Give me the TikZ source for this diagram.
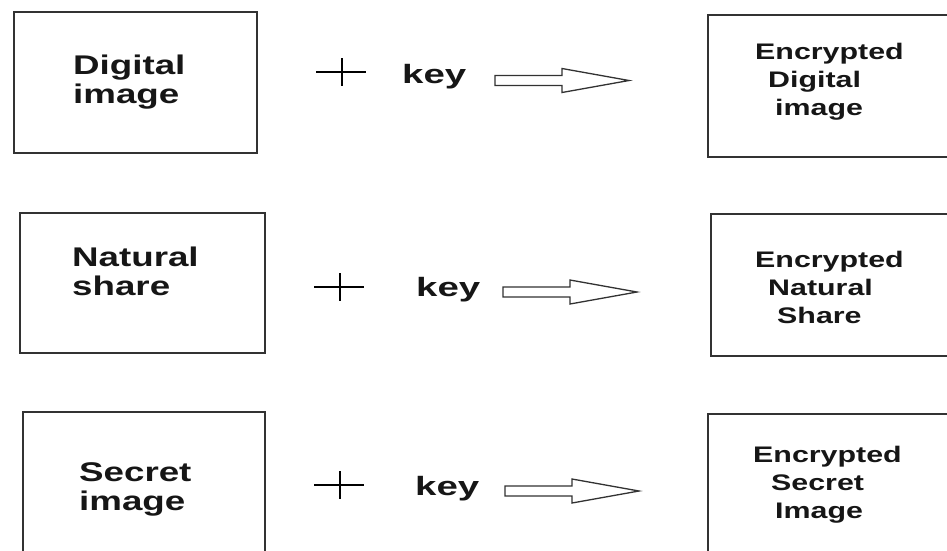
\documentclass[tikz,border=0pt]{standalone}
\usepackage{fontspec}
\setmainfont{Liberation Sans}
% wide bold sans faces for the three kinds of label
\newfontfamily\boxlabelfont[FakeStretch=1.36]{Liberation Sans}
\newfontfamily\outlabelfont[FakeStretch=1.35]{Liberation Sans}
\newfontfamily\keylabelfont[FakeStretch=1.45]{Liberation Sans}

\definecolor{ink}{RGB}{22,22,22}
\definecolor{frame}{RGB}{50,50,50}

\newcommand{\indentby}[1]{\hspace*{#1pt}}

\tikzset{
  box/.style={draw=frame, line width=1.4pt, rectangle, inner sep=0pt},
  inlabel/.style={text=ink, inner sep=0pt, text width=200pt, align=left, anchor=base west,
                  font=\boxlabelfont\bfseries\fontsize{27}{29}\selectfont},
  outlabel/.style={text=ink, inner sep=0pt, text width=180pt, align=left, anchor=base west,
                   font=\outlabelfont\bfseries\fontsize{22.5}{28}\selectfont},
  keytext/.style={text=ink, inner sep=0pt, anchor=base west,
                  font=\keylabelfont\bfseries\fontsize{26.5}{28}\selectfont},
  plusline/.style={draw=black, line width=1.2pt},
  arrowline/.style={draw=frame, line width=1.3pt, fill=white, line join=miter},
  plussign/.pic={\draw[plusline] (-26,0) -- (24,0) (0,-14) -- (0,14);},
  hollowarrow/.pic={\draw[arrowline] (0,-5) -- (67,-5) -- (67,-12) -- (134,0)
                     -- (67,12) -- (67,5) -- (0,5) -- cycle;}
}

\begin{document}
\begin{tikzpicture}[x=1pt,y=-1pt]
\useasboundingbox (0,0) rectangle (947,550);
\fill[white] (0,0) rectangle (947,550);
\clip (0,0) rectangle (947,550);

% input boxes
\node[box, minimum width=243pt, minimum height=141pt] (digital) at (135.5,82.5) {};
\node[box, minimum width=245pt, minimum height=140pt] (natural) at (142.5,283) {};
\node[box, minimum width=242pt, minimum height=158pt] (secret)  at (144,491) {};

\node[inlabel] (digitaltext) at (73,74)  {Digital\\image};
\node[inlabel] (naturaltext) at (72,266) {Natural\\share};
\node[inlabel] (secrettext)  at (79,481) {Secret\\image};

% plus signs and keys
\pic (plusA) at (342,72)  {plussign};
\pic (plusB) at (340,287) {plussign};
\pic (plusC) at (340,485) {plussign};

\node[keytext] (keyA) at (402,83)  {key};
\node[keytext] (keyB) at (416,296) {key};
\node[keytext] (keyC) at (415,495) {key};

% hollow block arrows
\pic (arrowA) at (495,80.5) {hollowarrow};
\pic (arrowB) at (503,292)  {hollowarrow};
\pic (arrowC) at (505,491)  {hollowarrow};

% encrypted output boxes (running off the right edge)
\node[box, minimum width=262pt, minimum height=142pt] (encdigital) at (839,86) {};
\node[box, minimum width=259pt, minimum height=142pt] (encnatural) at (840.5,285) {};
\node[box, minimum width=262pt, minimum height=156pt] (encsecret)  at (839,492) {};

\node[outlabel] (encdigitaltext) at (755,59)
  {Encrypted\\\indentby{13}Digital\\\indentby{20}image};
\node[outlabel] (encnaturaltext) at (755,267)
  {Encrypted\\\indentby{13}Natural\\\indentby{22}Share};
\node[outlabel] (encsecrettext)  at (753,462)
  {Encrypted\\\indentby{18}Secret\\\indentby{22}Image};
\end{tikzpicture}
\end{document}
